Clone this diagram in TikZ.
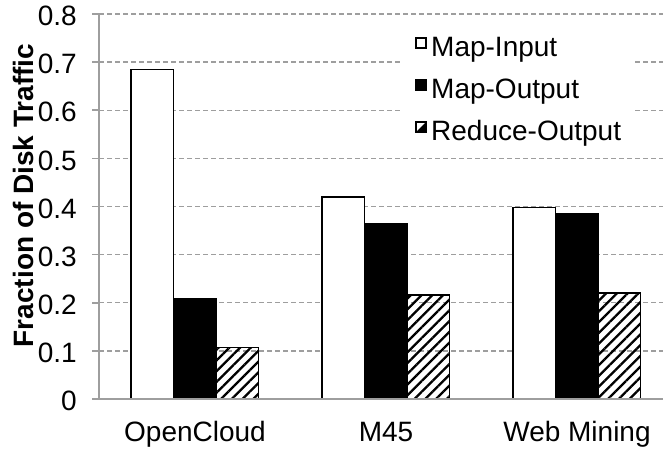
\documentclass[tikz,border=0pt]{standalone}
\usepackage{fontspec}
\setmainfont{Liberation Sans}
\usetikzlibrary{patterns.meta}
\definecolor{gridgray}{HTML}{9E9E9E}
\tikzset{
  grid line/.style={draw=gridgray, line width=1.3pt, dash pattern=on 5pt off 3pt},
  axis line/.style={draw=gridgray, line width=1.6pt},
  bar/.style={draw=black, line width=1.5pt},
  hatchbar/.style={bar, pattern={Lines[angle=45, distance=7.6pt, line width=2.3pt]}, pattern color=black},
  lbl/.style={inner sep=0pt, font=\fontsize{28}{33}\selectfont},
  ticklabel/.style={lbl, anchor=east},
  catlabel/.style={lbl, anchor=base},
  legtext/.style={lbl, anchor=base west},
  legbox/.style={draw=black, line width=1.1pt}
}
\begin{document}
\begin{tikzpicture}[x=1pt,y=1pt]
\useasboundingbox (0,0) rectangle (663,448);

% horizontal grid lines and tick marks
\foreach \v in {1,...,8} {
  \pgfmathsetmacro{\yy}{49+48.125*\v}
  \draw[grid line] (99,\yy) -- (663,\yy);
  \draw[axis line] (92,\yy) -- (99,\yy);
}

% tick labels
\foreach \v/\t in {0/0,1/0.1,2/0.2,3/0.3,4/0.4,5/0.5,6/0.6,7/0.7,8/0.8} {
  \pgfmathsetmacro{\yy}{49+48.125*\v-2}
  \node[ticklabel] (tick\v) at (77,\yy) {\t};
}

% bars: group index / map-input / map-output / reduce-output
\foreach \g/\a/\b/\c in {0/0.685/0.209/0.107, 1/0.42/0.365/0.216, 2/0.398/0.384/0.22} {
  \pgfmathsetmacro{\xa}{131+191*\g}
  \pgfmathsetmacro{\xb}{\xa+42.5}
  \pgfmathsetmacro{\xc}{\xa+85}
  \pgfmathsetmacro{\xd}{\xa+127.5}
  \pgfmathsetmacro{\ha}{49+481.25*\a}
  \pgfmathsetmacro{\hb}{49+481.25*\b}
  \pgfmathsetmacro{\hc}{49+481.25*\c}
  \draw[bar, fill=white] (\xa,49) rectangle (\xb,\ha);
  \draw[bar, fill=black] (\xb,49) rectangle (\xc,\hb);
  \draw[hatchbar] (\xc,49) rectangle (\xd,\hc);
}

% axes
\draw[axis line] (99,49) -- (99,434);
\draw[axis line] (92,49) -- (663,49);

% category labels
\node[catlabel] (catA) at (195,7) {OpenCloud};
\node[catlabel] (catB) at (386,7) {M45};
\node[catlabel] (catC) at (577,7) {Web Mining};

% axis title
\node[lbl, font=\fontsize{28}{33}\selectfont\bfseries, rotate=90] (ytitle) at (23,252.5) {Fraction of Disk Traffic};

% legend
\fill[white] (403,298) rectangle (633,428);
\draw[legbox, fill=white] (416,400) rectangle (426,410);
\node[legtext] (legA) at (431,391.5) {Map-Input};
\draw[legbox, fill=black] (416,358) rectangle (426,368);
\node[legtext] (legB) at (431,349.5) {Map-Output};
\fill[black] (416,316) -- (426,316) -- (426,326) -- cycle;
\draw[legbox] (416,316) rectangle (426,326);
\node[legtext] (legC) at (431,307.5) {Reduce-Output};
\end{tikzpicture}
\end{document}
